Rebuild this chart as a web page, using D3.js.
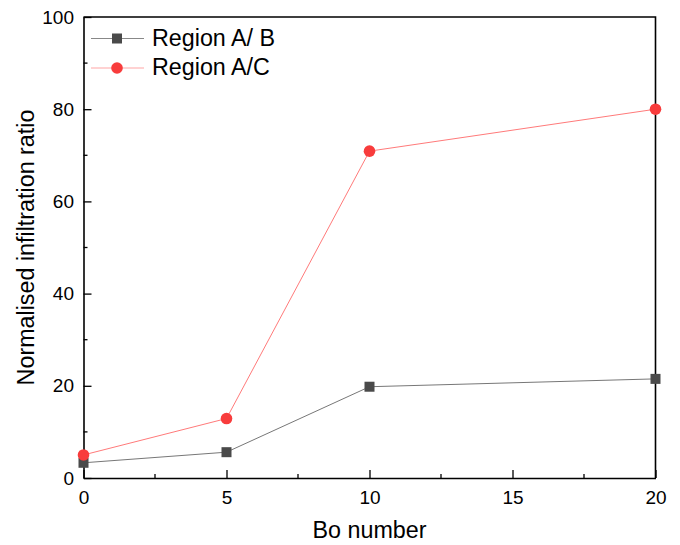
<!DOCTYPE html>
<html>
<head>
<meta charset="utf-8">
<script src="https://cdn.jsdelivr.net/npm/d3@7"></script>
<style>
  html, body { margin: 0; padding: 0; background: #fff; }
  svg { display: block; font-family: Arial, "Liberation Sans", sans-serif; }
</style>
</head>
<body>
<svg id="chart" width="680" height="545"></svg>
<script>
// Bo number on the x axis
const boNumbers = [0, 5, 10, 20];
// Normalised infiltration ratio per region pair
const regionAB = [3.3, 5.6, 19.8, 21.5];
const regionAC = [5.0, 12.9, 70.9, 80.0];
const seriesNames = ["Region A/ B", "Region A/C"];
const xTicks = [0, 5, 10, 15, 20];
const yTicks = [0, 20, 40, 60, 80, 100];

const svg = d3.select("#chart");
const plotL = 83.5, plotR = 655.5, plotT = 17, plotB = 478;

const x = d3.scaleLinear().domain([0, 20]).range([plotL, plotR]);
const y = d3.scaleLinear().domain([0, 100]).range([plotB, plotT]);

// Frame (top and right edges)
svg.append("path")
  .attr("d", `M${plotL},${plotT}H${plotR}V${plotB}`)
  .attr("fill", "none").attr("stroke", "#000").attr("stroke-width", 1.6);

// Minor ticks
const xMinor = [2.5, 7.5, 12.5, 17.5];
const yMinor = [10, 30, 50, 70, 90];
svg.append("g").selectAll("line").data(xMinor).join("line")
  .attr("x1", d => x(d)).attr("x2", d => x(d))
  .attr("y1", plotB).attr("y2", plotB - 4)
  .attr("stroke", "#000").attr("stroke-width", 1.3);
svg.append("g").selectAll("line").data(yMinor).join("line")
  .attr("y1", d => y(d)).attr("y2", d => y(d))
  .attr("x1", plotL).attr("x2", plotL + 4)
  .attr("stroke", "#000").attr("stroke-width", 1.3);

// Axes with inward ticks
const xAxis = d3.axisBottom(x).tickValues(xTicks).tickSizeInner(-8).tickSizeOuter(0).tickPadding(12.5);
const yAxis = d3.axisLeft(y).tickValues(yTicks).tickSizeInner(-8).tickSizeOuter(0).tickPadding(9.5);

const gx = svg.append("g").attr("transform", `translate(0,${plotB})`).call(xAxis);
const gy = svg.append("g").attr("transform", `translate(${plotL},0)`).call(yAxis);
[gx, gy].forEach(g => {
  g.select(".domain").attr("stroke", "#000").attr("stroke-width", 1.6);
  g.selectAll(".tick line").attr("stroke", "#000").attr("stroke-width", 1.3);
  g.selectAll(".tick text").attr("fill", "#000").style("font-size", "19px")
    .style("font-family", "Arial, 'Liberation Sans', sans-serif");
});
gx.selectAll(".tick text").attr("dy", "0.71em");

// Axis titles
svg.append("text")
  .attr("x", (plotL + plotR) / 2).attr("y", 538)
  .attr("text-anchor", "middle")
  .style("font-size", "23.3px")
  .text("Bo number");
svg.append("text")
  .attr("transform", `translate(33.5,${(plotT + plotB) / 2}) rotate(-90)`)
  .attr("text-anchor", "middle")
  .style("font-size", "23.3px")
  .text("Normalised infiltration ratio");

// Series lines
const line = (vals) => d3.line().x((d, i) => x(boNumbers[i])).y(d => y(d))(vals);

svg.append("path").attr("d", line(regionAB))
  .attr("fill", "none").attr("stroke", "#777").attr("stroke-width", 1);
svg.append("path").attr("d", line(regionAC))
  .attr("fill", "none").attr("stroke", "#ff7a7a").attr("stroke-width", 1);

// Markers
const sq = 10, rad = 5.8;
svg.append("g").selectAll("rect").data(regionAB).join("rect")
  .attr("x", (d, i) => x(boNumbers[i]) - sq / 2)
  .attr("y", d => y(d) - sq / 2)
  .attr("width", sq).attr("height", sq)
  .attr("fill", "#4a4a4a");
svg.append("g").selectAll("circle").data(regionAC).join("circle")
  .attr("cx", (d, i) => x(boNumbers[i]))
  .attr("cy", d => y(d))
  .attr("r", rad)
  .attr("fill", "#f83c3c");

// Legend
const legend = svg.append("g");
const legendRows = [
  { name: seriesNames[0], y: 38.5, stroke: "#888", shape: "square", fill: "#4a4a4a" },
  { name: seriesNames[1], y: 68, stroke: "#ffa5a5", shape: "circle", fill: "#f83c3c" }
];
legendRows.forEach(r => {
  legend.append("line").attr("x1", 91).attr("x2", 144).attr("y1", r.y).attr("y2", r.y)
    .attr("stroke", r.stroke).attr("stroke-width", 1);
  if (r.shape === "square") {
    legend.append("rect").attr("x", 117 - sq / 2).attr("y", r.y - sq / 2)
      .attr("width", sq).attr("height", sq).attr("fill", r.fill);
  } else {
    legend.append("circle").attr("cx", 117).attr("cy", r.y).attr("r", rad).attr("fill", r.fill);
  }
  legend.append("text").attr("x", 152).attr("y", r.y).attr("dy", "0.32em")
    .style("font-size", "23.3px").text(r.name);
});
</script>
</body>
</html>
